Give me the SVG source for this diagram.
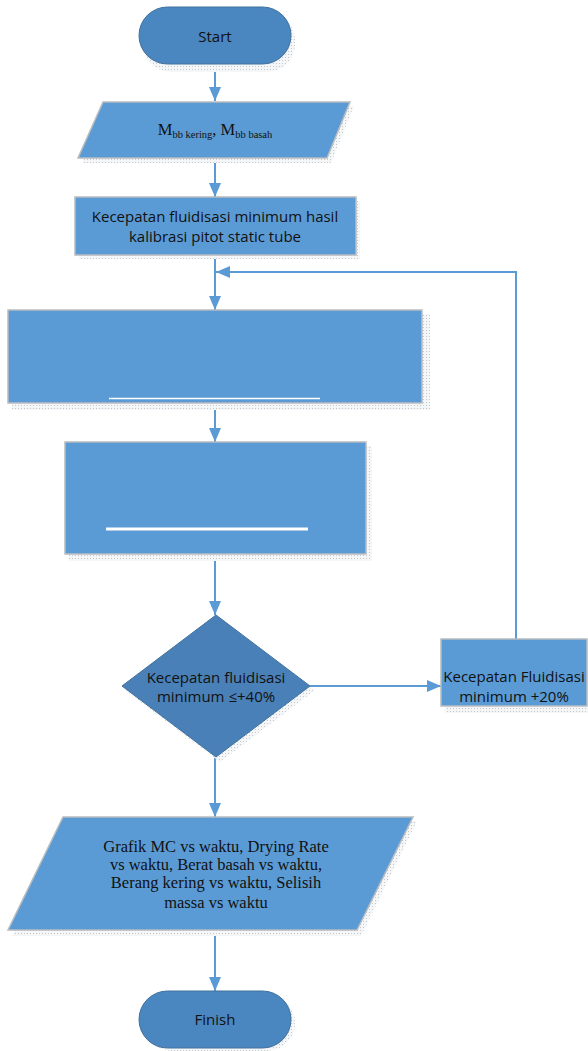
<svg xmlns="http://www.w3.org/2000/svg" width="588" height="1051" viewBox="0 0 588 1051">
<defs>
<pattern id="dots" width="3" height="3" patternUnits="userSpaceOnUse">
<rect width="3" height="3" fill="#f4f6f8"/>
<rect width="1" height="1" fill="#c4c8cc"/>
</pattern>
<marker id="ahb" viewBox="0 0 14 12" refX="14" refY="6" markerWidth="14" markerHeight="12" markerUnits="userSpaceOnUse" orient="auto">
<path d="M0,0 L14,6 L0,12 Z" fill="#5B9BD5"/>
</marker>
</defs>
<style>
.box{fill:#5B9BD5;stroke:#b8bcc0;stroke-width:1.5}
.term{fill:#4A86BF;stroke:#41719C;stroke-width:1}
.dia{fill:#4A80B8;stroke:#41719C;stroke-width:1}
.sh{fill:url(#dots)}
.sans{font-family:"Open Sans","Liberation Sans",sans-serif;font-size:15px;fill:#111;text-anchor:middle}
.serif{font-family:"Liberation Serif","Times New Roman",serif;font-size:16.5px;fill:#111;text-anchor:middle}
.con{stroke:#5B9BD5;stroke-width:2;fill:none}
.ul{stroke:#ffffff;fill:none}
</style>
<g id="connectors">
<line class="con" x1="215" y1="64" x2="215" y2="101" marker-end="url(#ahb)"/>
<line class="con" x1="215" y1="158" x2="215" y2="197" marker-end="url(#ahb)"/>
<line class="con" x1="215" y1="255" x2="215" y2="310" marker-end="url(#ahb)"/>
<line class="con" x1="215" y1="403" x2="215" y2="442" marker-end="url(#ahb)"/>
<line class="con" x1="215" y1="554" x2="215" y2="615" marker-end="url(#ahb)"/>
<line class="con" x1="215" y1="757" x2="215" y2="817" marker-end="url(#ahb)"/>
<line class="con" x1="215" y1="930" x2="215" y2="991" marker-end="url(#ahb)"/>
<line class="con" x1="310" y1="686" x2="441" y2="686" marker-end="url(#ahb)"/>
<polyline class="con" points="516,639 516,272 216,272" marker-end="url(#ahb)"/>
</g>
<g id="start">
<rect class="sh" x="143" y="12" width="152" height="60" rx="28"/>
<rect class="term" x="139" y="7" width="152" height="57" rx="28.5"/>
<text class="sans" x="215" y="42">Start</text>
</g>
<g id="input">
<polygon class="sh" points="107,106 354,106 331,163 82,163"/>
<polygon class="box" points="103,102 350,102 327,158 78,158"/>
<text class="serif" x="215" y="135">M<tspan font-size="10.5px" dy="3">bb kering</tspan><tspan dy="-3">, M</tspan><tspan font-size="10.5px" dy="3">bb basah</tspan></text>
</g>
<g id="kalibrasi">
<rect class="sh" x="79" y="201" width="281" height="58"/>
<rect class="box" x="75" y="197" width="281" height="58"/>
<text class="sans" x="215" y="222">Kecepatan fluidisasi minimum hasil</text>
<text class="sans" x="215" y="242">kalibrasi pitot static tube</text>
</g>
<g id="proses1">
<rect class="sh" x="12" y="314" width="418" height="96"/>
<rect class="box" x="8" y="310" width="414" height="93"/>
<line class="ul" x1="109" y1="398.5" x2="320" y2="398.5" stroke-width="1.5"/>
</g>
<g id="proses2">
<rect class="sh" x="69" y="446" width="303" height="115"/>
<rect class="box" x="65" y="442" width="301" height="112"/>
<line class="ul" x1="106" y1="529" x2="308" y2="529" stroke-width="3"/>
</g>
<g id="decision">
<polygon class="sh" points="220,620 314,691 220,762 126,691"/>
<polygon class="dia" points="216,615 310,686 216,757 122,686"/>
<text class="sans" x="216" y="683">Kecepatan fluidisasi</text>
<text class="sans" x="216" y="702">minimum ≤+40%</text>
</g>
<g id="tambah">
<rect class="sh" x="445" y="643" width="143" height="70"/>
<rect class="box" x="441" y="639" width="146" height="67"/>
<text class="sans" x="514" y="682">Kecepatan Fluidisasi</text>
<text class="sans" x="514" y="702">minimum +20%</text>
</g>
<g id="output">
<polygon class="sh" points="67,821 417,821 361,936 12,936"/>
<polygon class="box" points="63,817 413,817 357,930 8,930"/>
<text class="serif" x="216" y="852">Grafik MC vs waktu, Drying Rate</text>
<text class="serif" x="216" y="870">vs waktu, Berat basah vs waktu,</text>
<text class="serif" x="216" y="888">Berang kering vs waktu, Selisih</text>
<text class="serif" x="216" y="908">massa vs waktu</text>
</g>
<g id="finish">
<rect class="sh" x="143" y="995" width="152" height="56" rx="28"/>
<rect class="term" x="139" y="991" width="152" height="57" rx="28.5"/>
<text class="sans" x="215" y="1025">Finish</text>
</g>
</svg>
